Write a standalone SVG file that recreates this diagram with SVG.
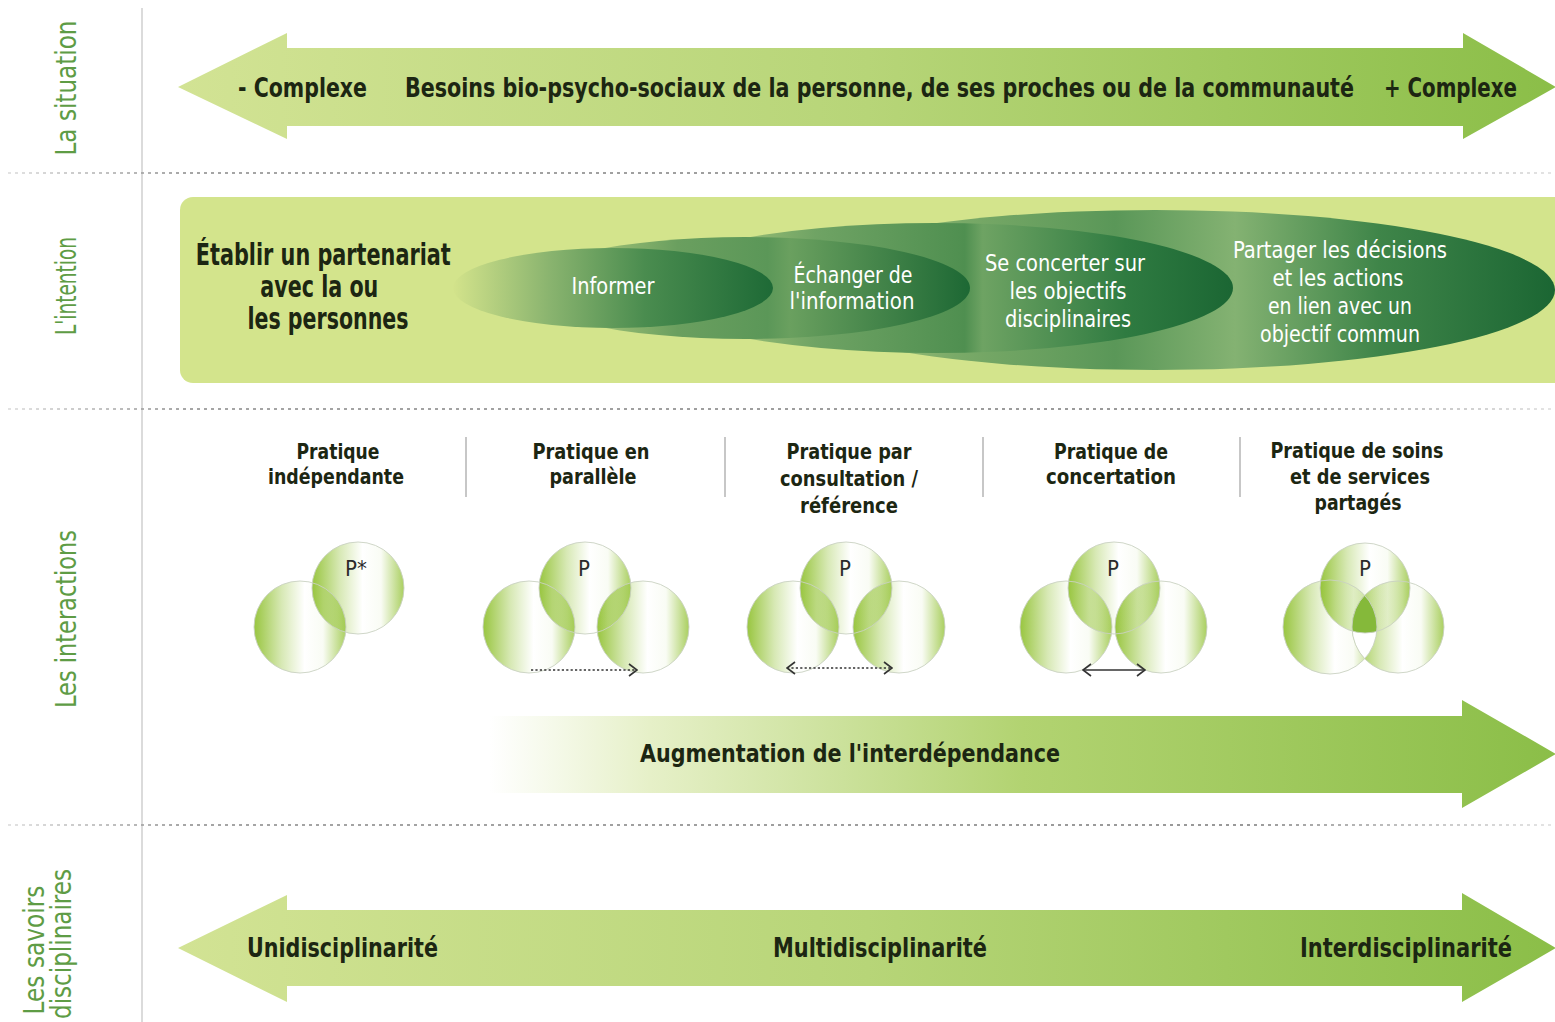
<svg xmlns="http://www.w3.org/2000/svg" width="1555" height="1022" viewBox="0 0 1555 1022">
<defs>
<style>
.lbl{font-family:'DejaVu Sans Condensed','Liberation Sans Narrow','Liberation Sans',sans-serif;font-stretch:condensed;font-size:28px;fill:#5e9c45;text-anchor:middle}
.bt{font-family:'DejaVu Sans Condensed','Liberation Sans Narrow','Liberation Sans',sans-serif;font-stretch:condensed;font-weight:bold;fill:#1c2612}
.wt{font-family:'DejaVu Sans Condensed','Liberation Sans Narrow','Liberation Sans',sans-serif;font-stretch:condensed;font-size:23px;fill:#ffffff;text-anchor:middle}
.ttl{font-size:22px;text-anchor:middle}
.pl{font-family:'DejaVu Sans Condensed','Liberation Sans Narrow','Liberation Sans',sans-serif;font-size:22px;fill:#2a2a2a;text-anchor:middle}
.sep{stroke:url(#sepg);stroke-width:1.6;stroke-dasharray:3 4;fill:none}
.vsep{stroke:#b5b5b5;stroke-width:1.5}
.cf{fill:url(#cg)}
.co{fill:none;stroke:#c9d1c2;stroke-width:0.9}
.arr{stroke:#333;stroke-width:1.5;fill:none}
</style>
<linearGradient id="sepg" gradientUnits="userSpaceOnUse" x1="0" y1="0" x2="1555" y2="0">
<stop offset="0" stop-color="#dddddd"/><stop offset="0.12" stop-color="#888"/><stop offset="0.8" stop-color="#777"/><stop offset="1" stop-color="#dddddd"/>
</linearGradient>
<linearGradient id="topg" gradientUnits="userSpaceOnUse" x1="180" y1="0" x2="1555" y2="0">
<stop offset="0" stop-color="#d2e394"/><stop offset="0.5" stop-color="#b7d578"/><stop offset="1" stop-color="#8bbe48"/>
</linearGradient>
<linearGradient id="augg" gradientUnits="userSpaceOnUse" x1="490" y1="0" x2="1555" y2="0">
<stop offset="0" stop-color="#ffffff"/><stop offset="0.15" stop-color="#e6f0c8"/><stop offset="0.5" stop-color="#b2d371"/><stop offset="1" stop-color="#8bbe48"/>
</linearGradient>
<linearGradient id="cg" x1="0" y1="0" x2="1" y2="0">
<stop offset="0" stop-color="#8dbf2a" stop-opacity="0.9"/><stop offset="0.3" stop-color="#8dbf2a" stop-opacity="0.35"/><stop offset="0.55" stop-color="#8dbf2a" stop-opacity="0"/><stop offset="0.75" stop-color="#8dbf2a" stop-opacity="0.05"/><stop offset="1" stop-color="#8dbf2a" stop-opacity="0.75"/>
</linearGradient>
<linearGradient id="e4" gradientUnits="userSpaceOnUse" x1="755" y1="0" x2="1555" y2="0">
<stop offset="0" stop-color="#cfe08c"/><stop offset="0.25" stop-color="#7aaa68"/><stop offset="0.45" stop-color="#5a9758"/><stop offset="0.6" stop-color="#84b272"/><stop offset="0.78" stop-color="#3f8549"/><stop offset="1" stop-color="#1b6633"/>
</linearGradient>
<linearGradient id="e3" gradientUnits="userSpaceOnUse" x1="637" y1="0" x2="1233" y2="0">
<stop offset="0" stop-color="#cfe08c"/><stop offset="0.3" stop-color="#6fa364"/><stop offset="0.55" stop-color="#4f8f50"/><stop offset="0.58" stop-color="#6ea363"/><stop offset="0.82" stop-color="#2f7b41"/><stop offset="1" stop-color="#1b6633"/>
</linearGradient>
<linearGradient id="e2" gradientUnits="userSpaceOnUse" x1="520" y1="0" x2="970" y2="0">
<stop offset="0" stop-color="#cfe08c"/><stop offset="0.35" stop-color="#6a9f5f"/><stop offset="0.55" stop-color="#5b9758"/><stop offset="0.6" stop-color="#6aa05f"/><stop offset="1" stop-color="#1d6834"/>
</linearGradient>
<linearGradient id="e1" gradientUnits="userSpaceOnUse" x1="453" y1="0" x2="773" y2="0">
<stop offset="0" stop-color="#d3e38b"/><stop offset="0.3" stop-color="#8ab46f"/><stop offset="0.6" stop-color="#4a8c4f"/><stop offset="1" stop-color="#1e6a36"/>
</linearGradient>
<clipPath id="c5L"><circle cx="1330" cy="627" r="47"/></clipPath>
<clipPath id="c5R"><circle cx="1398" cy="627" r="46"/></clipPath>
<marker id="chev" viewBox="0 0 10 14" refX="9" refY="7" markerWidth="10" markerHeight="14" markerUnits="userSpaceOnUse" orient="auto-start-reverse">
<path d="M1,1 L9,7 L1,13" fill="none" stroke="#333" stroke-width="1.6"/>
</marker>
</defs>

<rect width="1555" height="1022" fill="#ffffff"/>

<g id="frame">
<line x1="142" y1="8" x2="142" y2="1022" stroke="#cfcfcf" stroke-width="1.5"/>
<line class="sep" x1="8" y1="173" x2="1555" y2="173"/>
<line class="sep" x1="8" y1="409" x2="1555" y2="409"/>
<line class="sep" x1="8" y1="825" x2="1555" y2="825"/>
</g>

<g id="labels">
<text class="lbl" transform="translate(76,88) rotate(-90)" textLength="135" lengthAdjust="spacingAndGlyphs">La situation</text>
<text class="lbl" transform="translate(76,286) rotate(-90)" textLength="98" lengthAdjust="spacingAndGlyphs">L'intention</text>
<text class="lbl" transform="translate(76,619) rotate(-90)" textLength="178" lengthAdjust="spacingAndGlyphs">Les interactions</text>
<text class="lbl" transform="translate(44,950) rotate(-90)" textLength="129" lengthAdjust="spacingAndGlyphs">Les savoirs</text>
<text class="lbl" transform="translate(71,944) rotate(-90)" textLength="150" lengthAdjust="spacingAndGlyphs">disciplinaires</text>
</g>

<g id="situation">
<path d="M178,87 L287,33 L287,48 L1463,48 L1463,33 L1556,87 L1463,139 L1463,126 L287,126 L287,139 Z" fill="url(#topg)"/>
<text class="bt" x="238" y="97" font-size="26" textLength="129" lengthAdjust="spacingAndGlyphs">- Complexe</text>
<text class="bt" transform="translate(405,97) scale(1,1.2)" x="0" y="0" font-size="21.5" textLength="949" lengthAdjust="spacingAndGlyphs">Besoins bio-psycho-sociaux de la personne, de ses proches ou de la communauté</text>
<text class="bt" x="1384" y="97" font-size="26" textLength="133" lengthAdjust="spacingAndGlyphs">+ Complexe</text>
</g>

<g id="intention">
<rect x="180" y="197" width="1400" height="186" rx="13" fill="#d3e48c"/>
<text class="bt" font-size="30" text-anchor="middle">
<tspan x="328" y="265" textLength="255" lengthAdjust="spacingAndGlyphs">Établir un partenariat</tspan>
<tspan x="324" y="297" textLength="118" lengthAdjust="spacingAndGlyphs">avec la ou</tspan>
<tspan x="328" y="329" textLength="161" lengthAdjust="spacingAndGlyphs">les personnes</tspan>
</text>
<g id="ell4">
<ellipse cx="1155" cy="290" rx="400" ry="80" fill="url(#e4)"/>
</g>
<g id="ell3">
<ellipse cx="935" cy="288" rx="298" ry="65" fill="url(#e3)"/>
</g>
<g id="ell2">
<ellipse cx="745" cy="288" rx="225" ry="51" fill="url(#e2)"/>
</g>
<g id="ell1">
<ellipse cx="613" cy="288" rx="160" ry="40" fill="url(#e1)"/>
</g>
<text class="wt" x="613" y="294" textLength="83" lengthAdjust="spacingAndGlyphs">Informer</text>
<text class="wt"><tspan x="853" y="283" textLength="119" lengthAdjust="spacingAndGlyphs">Échanger de</tspan><tspan x="852" y="309" textLength="125" lengthAdjust="spacingAndGlyphs">l'information</tspan></text>
<text class="wt"><tspan x="1065" y="271" textLength="160" lengthAdjust="spacingAndGlyphs">Se concerter sur</tspan><tspan x="1068" y="299" textLength="117" lengthAdjust="spacingAndGlyphs">les objectifs</tspan><tspan x="1068" y="327" textLength="126" lengthAdjust="spacingAndGlyphs">disciplinaires</tspan></text>
<text class="wt"><tspan x="1340" y="258" textLength="214" lengthAdjust="spacingAndGlyphs">Partager les décisions</tspan><tspan x="1338" y="286" textLength="131" lengthAdjust="spacingAndGlyphs">et les actions</tspan><tspan x="1340" y="314" textLength="144" lengthAdjust="spacingAndGlyphs">en lien avec un</tspan><tspan x="1340" y="342" textLength="160" lengthAdjust="spacingAndGlyphs">objectif commun</tspan></text>
</g>

<g id="interactions-titles">
<line class="vsep" x1="466" y1="437" x2="466" y2="497"/>
<line class="vsep" x1="725" y1="437" x2="725" y2="497"/>
<line class="vsep" x1="983" y1="437" x2="983" y2="497"/>
<line class="vsep" x1="1240" y1="437" x2="1240" y2="497"/>
<text class="bt ttl"><tspan x="338" y="459" textLength="83" lengthAdjust="spacingAndGlyphs">Pratique</tspan><tspan x="336" y="484" textLength="136" lengthAdjust="spacingAndGlyphs">indépendante</tspan></text>
<text class="bt ttl"><tspan x="591" y="459" textLength="117" lengthAdjust="spacingAndGlyphs">Pratique en</tspan><tspan x="593" y="484" textLength="87" lengthAdjust="spacingAndGlyphs">parallèle</tspan></text>
<text class="bt ttl"><tspan x="849" y="459" textLength="125" lengthAdjust="spacingAndGlyphs">Pratique par</tspan><tspan x="849" y="486" textLength="138" lengthAdjust="spacingAndGlyphs">consultation /</tspan><tspan x="849" y="513" textLength="98" lengthAdjust="spacingAndGlyphs">référence</tspan></text>
<text class="bt ttl"><tspan x="1111" y="459" textLength="114" lengthAdjust="spacingAndGlyphs">Pratique de</tspan><tspan x="1111" y="484" textLength="130" lengthAdjust="spacingAndGlyphs">concertation</tspan></text>
<text class="bt ttl"><tspan x="1357" y="458" textLength="173" lengthAdjust="spacingAndGlyphs">Pratique de soins</tspan><tspan x="1360" y="484" textLength="140" lengthAdjust="spacingAndGlyphs">et de services</tspan><tspan x="1358" y="510" textLength="87" lengthAdjust="spacingAndGlyphs">partagés</tspan></text>
</g>

<g id="venn1">
<circle class="cf" cx="300" cy="627" r="46"/>
<circle class="cf" cx="358" cy="588" r="46"/>
<circle class="co" cx="300" cy="627" r="46"/>
<circle class="co" cx="358" cy="588" r="46"/>
<text class="pl" x="356" y="576">P*</text>
</g>
<g id="venn2">
<circle class="cf" cx="529" cy="627" r="46"/>
<circle class="cf" cx="643" cy="627" r="46"/>
<circle class="cf" cx="585" cy="588" r="46"/>
<circle class="co" cx="529" cy="627" r="46"/>
<circle class="co" cx="643" cy="627" r="46"/>
<circle class="co" cx="585" cy="588" r="46"/>
<text class="pl" x="584" y="576">P</text>
</g>
<g id="venn3">
<circle class="cf" cx="793" cy="627" r="46"/>
<circle class="cf" cx="899" cy="627" r="46"/>
<circle class="cf" cx="846" cy="588" r="46"/>
<circle class="co" cx="793" cy="627" r="46"/>
<circle class="co" cx="899" cy="627" r="46"/>
<circle class="co" cx="846" cy="588" r="46"/>
<text class="pl" x="845" y="576">P</text>
</g>
<g id="venn4">
<circle class="cf" cx="1066" cy="627" r="46"/>
<circle class="cf" cx="1161" cy="627" r="46"/>
<circle class="cf" cx="1114" cy="588" r="46"/>
<circle class="co" cx="1066" cy="627" r="46"/>
<circle class="co" cx="1161" cy="627" r="46"/>
<circle class="co" cx="1114" cy="588" r="46"/>
<text class="pl" x="1113" y="576">P</text>
</g>
<g id="venn5">
<circle class="cf" cx="1330" cy="627" r="47"/>
<circle class="cf" cx="1398" cy="627" r="46"/>
<g clip-path="url(#c5L)"><rect x="1340" y="570" width="60" height="110" fill="#ffffff" clip-path="url(#c5R)"/></g>
<circle class="cf" cx="1365" cy="588" r="45"/>
<g clip-path="url(#c5L)"><circle cx="1365" cy="588" r="45" fill="#85b93a" clip-path="url(#c5R)"/></g>
<circle class="co" cx="1330" cy="627" r="47"/>
<circle class="co" cx="1398" cy="627" r="46"/>
<circle class="co" cx="1365" cy="588" r="45"/>
<text class="pl" x="1365" y="576">P</text>
</g>

<g id="connectors">
<line class="arr" x1="531" y1="670" x2="637" y2="670" stroke-dasharray="2.2 2.2" marker-end="url(#chev)"/>
<line class="arr" x1="787" y1="668" x2="892" y2="668" stroke-dasharray="2.2 2.2" marker-start="url(#chev)" marker-end="url(#chev)"/>
<line class="arr" x1="1083" y1="670" x2="1145" y2="670" marker-start="url(#chev)" marker-end="url(#chev)"/>
</g>

<g id="interdependance">
<path d="M490,716 L1462,716 L1462,700 L1556,754 L1462,808 L1462,793 L490,793 Z" fill="url(#augg)"/>
<text class="bt" x="850" y="762" font-size="25" text-anchor="middle" textLength="420" lengthAdjust="spacingAndGlyphs">Augmentation de l'interdépendance</text>
</g>

<g id="savoirs">
<path d="M178,948 L287,895 L287,910 L1462,910 L1462,893 L1556,948 L1462,1002 L1462,986 L287,986 L287,1002 Z" fill="url(#topg)"/>
<text class="bt" x="247" y="957" font-size="26" textLength="191" lengthAdjust="spacingAndGlyphs">Unidisciplinarité</text>
<text class="bt" x="880" y="957" font-size="26" text-anchor="middle" textLength="214" lengthAdjust="spacingAndGlyphs">Multidisciplinarité</text>
<text class="bt" x="1512" y="957" font-size="26" text-anchor="end" textLength="212" lengthAdjust="spacingAndGlyphs">Interdisciplinarité</text>
</g>
</svg>
